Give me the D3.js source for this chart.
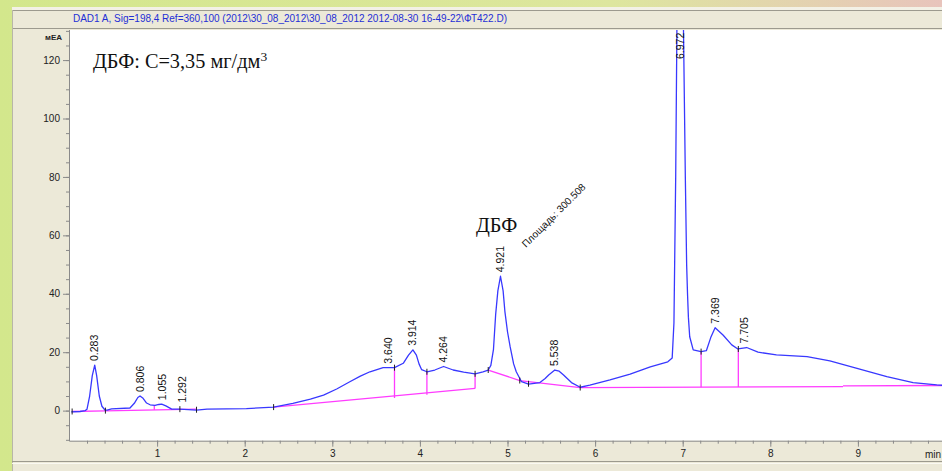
<!DOCTYPE html>
<html>
<head>
<meta charset="utf-8">
<script src="https://cdn.jsdelivr.net/npm/d3@7"></script>
<style>
body { margin: 0; padding: 0; overflow: hidden; }
svg { display: block; }
</style>
</head>
<body>
<svg id="chart" width="942" height="471"></svg>
<script>
/*
 * chromatogram, DAD1 A
 */

// trace (min, mEA)
var traceTime = [0.02, 0.12, 0.18, 0.20, 0.23, 0.26, 0.288, 0.31, 0.34, 0.37, 0.405, 0.43, 0.48, 0.69, 0.74, 0.78, 0.805, 0.84, 0.88, 0.92,
	0.976, 1.02, 1.052, 1.10, 1.167, 1.26, 1.45, 1.57, 2.02, 2.33, 2.55, 2.75, 2.90, 3.05, 3.20, 3.32, 3.43, 3.58, 3.71, 3.81,
	3.87, 3.92, 3.96, 3.99, 4.02, 4.08, 4.17, 4.27, 4.38, 4.50, 4.63, 4.72, 4.78, 4.81, 4.84, 4.865, 4.89, 4.92, 4.95, 4.97,
	5.00, 5.03, 5.07, 5.10, 5.16, 5.24, 5.37, 5.43, 5.47, 5.54, 5.59, 5.64, 5.73, 5.83, 5.94, 6.17, 6.40, 6.63, 6.83, 6.88,
	6.90, 6.92, 6.935, 6.955, 6.975, 6.995, 7.01, 7.03, 7.045, 7.055, 7.065, 7.08, 7.12, 7.21, 7.27, 7.32, 7.37, 7.46, 7.56, 7.63,
	7.73, 7.86, 8.07, 8.42, 8.68, 8.99, 9.33, 9.63, 9.90, 10.0];
var traceSignal = [-0.4, -0.3, 0.0, 0.5, 5, 12, 15.6, 12, 5, 1.5, 0.2, 0.2, 0.6, 0.9, 2.5, 4.5, 5.0, 4.2, 2.6, 2.0,
	1.8, 2.1, 2.2, 1.6, 0.5, 0.5, 0.2, 0.5, 0.7, 1.2, 2.5, 3.9, 5.3, 7.4, 9.9, 11.8, 13.3, 14.7, 14.7, 16.2,
	19, 20.8, 19, 16, 14, 13.3, 13.9, 15.1, 13.9, 13.2, 12.6, 13.3, 13.9, 15.5, 21, 33, 41, 46, 41, 34,
	27, 21.9, 16, 13.3, 9.9, 9.1, 9.6, 11, 12.2, 13.9, 13.5, 12.2, 9.6, 8.0, 8.7, 10.5, 12.5, 15, 16.7, 18,
	30, 80, 135, 185, 190, 160, 128, 80, 50, 40, 32, 25.3, 20.8, 20.2, 20.5, 25, 28.4, 25.9, 22.5, 21.1,
	21.6, 20.0, 19.1, 18.5, 17.0, 14.5, 11.6, 9.6, 8.8, 8.6];

// integration baselines
var baselineTime = [[0.03, 0.41, 1.45], [2.33, 4.63], [4.78, 5.14, 5.83], [5.83, 8.83], [8.83, 9.96]];
var baselineSignal = [[-0.3, -0.1, 0.5], [1.2, 7.6], [13.9, 10.3, 7.9], [7.9, 8.2], [8.5, 8.6]];

// drop lines between baseline and trace
var dropTime = [0.968, 3.71, 4.08, 4.63, 7.21, 7.635];
var dropLow = [0.3, 4.3, 5.4, 7.6, 8.0, 8.1];
var dropHigh = [1.8, 14.7, 13.3, 12.6, 20.2, 21.1];

// integration event marks
var eventTime = [0.03, 0.41, 1.26, 1.45, 2.33, 3.71, 4.08, 4.63, 4.78, 5.14, 5.24, 5.83, 7.21, 7.635];
var eventSignal = [-0.3, 0.0, 0.5, 0.3, 1.2, 14.7, 13.3, 12.6, 13.9, 10.3, 9.2, 7.9, 20.2, 21.1];

// peak labels
var peakLabel = ["0.283", "0.806", "1.055", "1.292", "3.640", "3.914", "4.264", "4.921", "5.538", "6.972", "7.369", "7.705"];
var peakHeight = [15.6, 5.0, 2.2, 1.4, 14.7, 20.8, 15.1, 46, 13.9, 190, 28.4, 21.6];

var yMajorTicks = [0, 20, 40, 60, 80, 100, 120];
var xMajorTicks = [1, 2, 3, 4, 5, 6, 7, 8, 9];

var headerText = "DAD1 A, Sig=198,4 Ref=360,100 (2012\\30_08_2012\\30_08_2012 2012-08-30 16-49-22\\ФТ422.D)";
var noteText = "ДБФ: С=3,35 мг/дм";
var peakName = "ДБФ";
var areaText = "Площадь: 300.508";

var PLOT_LEFT = 70;
var PLOT_RIGHT = 942;
var PLOT_TOP = 30;
var PLOT_BOTTOM = 440.7;
var BEIGE = "#ece9d8";
var TRACE_COLOR = "#3838ff";
var BASE_COLOR = "#ff3cff";

var svg = d3.select("#chart");

var x = d3.scaleLinear()
	.domain([0, 10])
	.range([69.5, 945.5]);

var y = d3.scaleLinear()
	.domain([-10.3, 130.3])
	.range([PLOT_BOTTOM, PLOT_TOP]);

// window background
var defs = svg.append("defs");
var grad = defs.append("linearGradient").attr("id", "bg");
grad.append("stop").attr("offset", "0").attr("stop-color", "#d3e78c");
grad.append("stop").attr("offset", "0.65").attr("stop-color", "#dde69e");
grad.append("stop").attr("offset", "1").attr("stop-color", "#e8c4bc");

defs.append("clipPath").attr("id", "plotClip")
	.append("rect")
	.attr("x", PLOT_LEFT)
	.attr("y", PLOT_TOP)
	.attr("width", PLOT_RIGHT - PLOT_LEFT)
	.attr("height", PLOT_BOTTOM - PLOT_TOP);

svg.append("rect").attr("width", 942).attr("height", 471).attr("fill", "url(#bg)");

// panel
svg.append("rect")
	.attr("x", 12).attr("y", 7).attr("width", 940).attr("height", 470)
	.attr("fill", BEIGE);
svg.append("rect")
	.attr("x", 12).attr("y", 7).attr("width", 940).attr("height", 3)
	.attr("fill", "#f3f1e6");
svg.append("line")
	.attr("x1", 12).attr("x2", 942).attr("y1", 10.5).attr("y2", 10.5)
	.attr("stroke", "#9c9a8e");
svg.append("line")
	.attr("x1", 12).attr("x2", 942).attr("y1", 28.5).attr("y2", 28.5)
	.attr("stroke", "#9c9a8e");
svg.append("line")
	.attr("x1", 12.5).attr("x2", 12.5).attr("y1", 10).attr("y2", 471)
	.attr("stroke", "#b8b6a8");

svg.append("text")
	.attr("x", 73)
	.attr("y", 22)
	.attr("textLength", 434)
	.attr("lengthAdjust", "spacingAndGlyphs")
	.style("font-family", "Liberation Sans, Arial, sans-serif")
	.style("font-size", "10px")
	.style("fill", "#1f2fd6")
	.text(headerText);

// plot area
svg.append("rect")
	.attr("x", PLOT_LEFT).attr("y", PLOT_TOP)
	.attr("width", PLOT_RIGHT - PLOT_LEFT).attr("height", PLOT_BOTTOM - PLOT_TOP)
	.attr("fill", "white");

// bottom lines under the x axis
svg.append("line")
	.attr("x1", 12).attr("x2", 942).attr("y1", 461.5).attr("y2", 461.5)
	.attr("stroke", "#9c9a8e");
svg.append("line")
	.attr("x1", 12).attr("x2", 942).attr("y1", 463.5).attr("y2", 463.5)
	.attr("stroke", "#faf9f2");

// axes
var yMinor = d3.axisLeft(y)
	.tickValues(d3.range(-10, 131, 5))
	.tickSize(4)
	.tickFormat("");
var yMajor = d3.axisLeft(y)
	.tickValues(yMajorTicks)
	.tickSize(7)
	.tickPadding(3)
	.tickFormat(d3.format("d"));
var xMinor = d3.axisBottom(x)
	.tickValues(d3.range(1, 50).map(function(d) { return d * 0.2; }))
	.tickSize(3)
	.tickFormat("");
var xMajor = d3.axisBottom(x)
	.tickValues(xMajorTicks)
	.tickSize(6)
	.tickPadding(3)
	.tickFormat(d3.format("d"));

function styleAxis(g) {
	g.select(".domain").remove();
	g.selectAll(".tick line").attr("stroke", "#8a8a8a");
	g.selectAll(".tick text")
		.style("font-family", "Liberation Sans, Arial, sans-serif")
		.style("font-size", "10px")
		.style("fill", "#222");
}

svg.append("g").attr("transform", "translate(" + PLOT_LEFT + ",0)").call(yMinor).call(styleAxis);
svg.append("g").attr("transform", "translate(" + PLOT_LEFT + ",0)").call(yMajor).call(styleAxis);
svg.append("g").attr("transform", "translate(0," + PLOT_BOTTOM + ")").call(xMinor).call(styleAxis);
svg.append("g").attr("transform", "translate(0," + PLOT_BOTTOM + ")").call(xMajor).call(styleAxis);

svg.append("line")
	.attr("x1", PLOT_LEFT - 0.5).attr("x2", PLOT_LEFT - 0.5)
	.attr("y1", PLOT_TOP).attr("y2", PLOT_BOTTOM + 0.5)
	.attr("stroke", "#8a8a8a");
svg.append("line")
	.attr("x1", PLOT_LEFT - 0.5).attr("x2", PLOT_RIGHT)
	.attr("y1", PLOT_BOTTOM + 0.5).attr("y2", PLOT_BOTTOM + 0.5)
	.attr("stroke", "#8a8a8a");

svg.append("text")
	.attr("x", 62)
	.attr("y", 40)
	.attr("text-anchor", "end")
	.style("font-family", "Liberation Sans, Arial, sans-serif")
	.style("font-size", "8px")
	.style("font-weight", "bold")
	.style("fill", "#222")
	.text("мЕА");

svg.append("text")
	.attr("x", 925)
	.attr("y", 458)
	.style("font-family", "Liberation Sans, Arial, sans-serif")
	.style("font-size", "10px")
	.style("fill", "#222")
	.text("min");

// baselines and drop lines
var plot = svg.append("g").attr("clip-path", "url(#plotClip)");

var line = d3.line()
	.x(function(d) { return x(d[0]); })
	.y(function(d) { return y(d[1]); });

for (var i = 0; i < baselineTime.length; i++) {
	var pts = baselineTime[i].map(function(t, j) { return [t, baselineSignal[i][j]]; });
	plot.append("path")
		.attr("d", line(pts))
		.attr("fill", "none")
		.attr("stroke", BASE_COLOR)
		.attr("stroke-width", 1.3);
}

plot.selectAll(".drop")
	.data(dropTime)
	.enter()
	.append("line")
	.attr("class", "drop")
	.attr("x1", function(d) { return x(d); })
	.attr("x2", function(d) { return x(d); })
	.attr("y1", function(d, i) { return y(dropLow[i]); })
	.attr("y2", function(d, i) { return y(dropHigh[i]); })
	.attr("stroke", BASE_COLOR)
	.attr("stroke-width", 1.3);

// the trace
var tracePts = traceTime.map(function(t, i) { return [t, traceSignal[i]]; });
plot.append("path")
	.attr("d", line(tracePts))
	.attr("fill", "none")
	.attr("stroke", TRACE_COLOR)
	.attr("stroke-width", 1.3)
	.attr("stroke-linejoin", "round");

// event marks
plot.selectAll(".evt")
	.data(eventTime)
	.enter()
	.append("line")
	.attr("class", "evt")
	.attr("x1", function(d) { return x(d); })
	.attr("x2", function(d) { return x(d); })
	.attr("y1", function(d, i) { return y(eventSignal[i]) - 3; })
	.attr("y2", function(d, i) { return y(eventSignal[i]) + 3; })
	.attr("stroke", "#222")
	.attr("stroke-width", 1);

// peak labels
svg.selectAll(".peak")
	.data(peakLabel)
	.enter()
	.append("text")
	.attr("class", "peak")
	.attr("transform", function(d, i) {
		var px = x(parseFloat(d));
		var py = Math.max(y(peakHeight[i]) - 4, PLOT_TOP + 29);
		return "translate(" + px + "," + py + ") rotate(-90)";
	})
	.attr("dy", "0.35em")
	.style("font-family", "Liberation Sans, Arial, sans-serif")
	.style("font-size", "10.5px")
	.style("fill", "#111")
	.text(function(d) { return d; });

// annotations
var note = svg.append("text")
	.attr("x", 93)
	.attr("y", 68)
	.style("font-family", "Liberation Serif, Times New Roman, serif")
	.style("font-size", "20.3px")
	.style("fill", "#111");
note.append("tspan").text(noteText);
note.append("tspan").attr("dy", -7).style("font-size", "13.5px").text("3");

svg.append("text")
	.attr("x", 476)
	.attr("y", 232)
	.style("font-family", "Liberation Serif, Times New Roman, serif")
	.style("font-size", "20.3px")
	.style("fill", "#111")
	.text(peakName);

svg.append("text")
	.attr("transform", "translate(526,248) rotate(-45)")
	.style("font-family", "Liberation Sans, Arial, sans-serif")
	.style("font-size", "10px")
	.style("fill", "#111")
	.text(areaText);
</script>
</body>
</html>
